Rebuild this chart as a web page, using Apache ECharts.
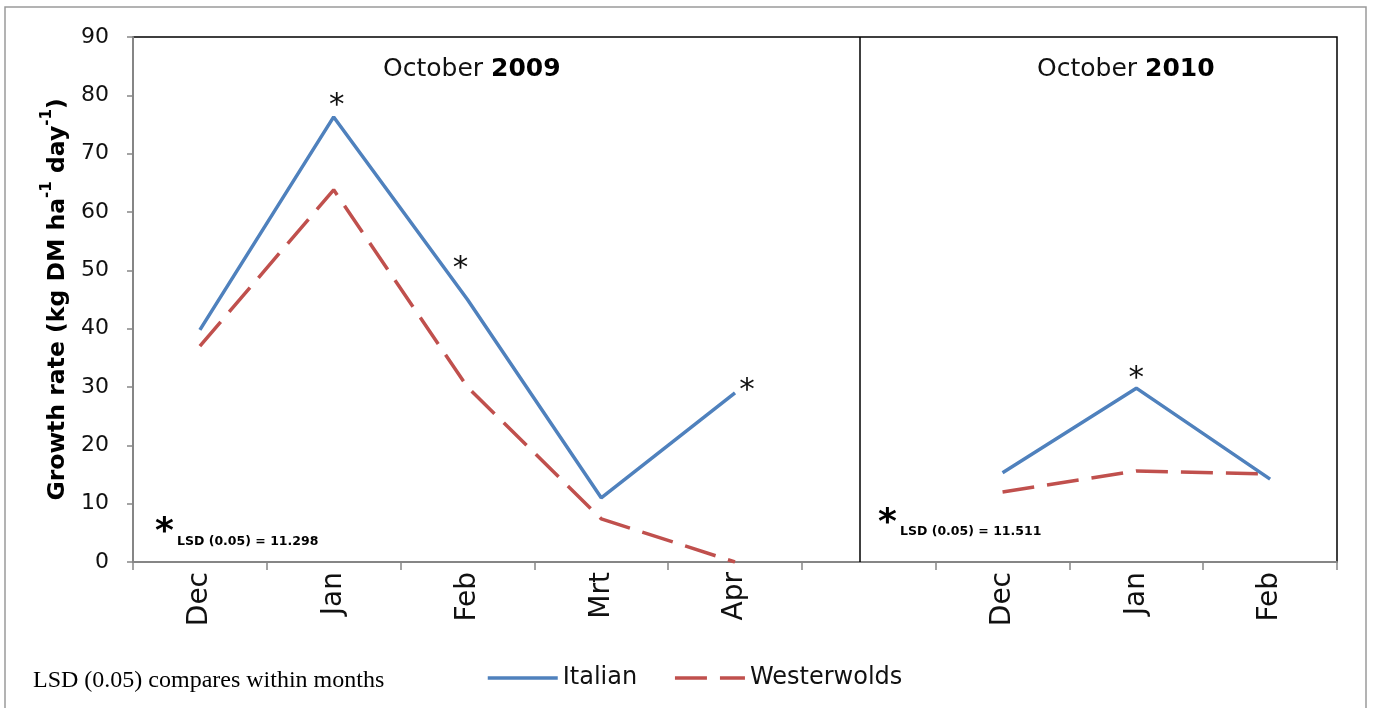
<!DOCTYPE html>
<html><head><meta charset="utf-8">
<script src="https://cdn.jsdelivr.net/npm/echarts@6/dist/echarts.min.js"></script>
<style>html,body{margin:0;padding:0;background:#fff}#c{width:1373px;height:708px}</style>
</head><body><div id="c"></div>
<script>
// ---- data ----
const categories = ['Dec', 'Jan', 'Feb', 'Mrt', 'Apr', '', 'Dec', 'Jan', 'Feb'];
const italian =     [39.8, 76.3, 45.0, 11.0, 29.0, null, 15.3, 29.8, 14.2];
const westerwolds = [37.0, 63.8, 30.0, 7.4, 0.0, null, 12.0, 15.6, 15.1];
const significant = [false, true, true, false, true, false, false, true, false];
const yTicks = [0, 10, 20, 30, 40, 50, 60, 70, 80, 90];
const periodLabels = ['2009', '2010'];
const lsdValues = ['11.298', '11.511'];
const separatorPos = 5.43; // between the two periods (in category units)

const FONT = '"DejaVu Sans", "Noto Sans", sans-serif';

// asterisk label placement (pixel offsets from the point) per significant point
const starOffsets = {1: [3, -11], 2: [-7, -31], 4: [12, -2], 7: [0, -9]};

const starPoints = [];
significant.forEach((s, i) => {
  if (s && italian[i] != null) {
    starPoints.push({coord: [i, italian[i]], value: '*',
      label: {offset: starOffsets[i]}});
  }
});

const chart = echarts.init(document.getElementById('c'), null, {renderer: 'canvas'});
chart.setOption({
  animation: false,
  backgroundColor: '#fff',
  grid: {left: 133, right: 36, top: 37, bottom: 146, show: true, borderColor: '#000', borderWidth: 1.5},
  legend: {
    data: ['Italian', 'Westerwolds'], left: 481, top: 661, itemWidth: 70, itemHeight: 4, itemGap: 36,
    lineStyle: {width: 3.5},
    itemStyle: {opacity: 0},
    textStyle: {fontSize: 24, color: '#111', fontFamily: FONT}
  },
  xAxis: [{
    type: 'category', data: categories, boundaryGap: true,
    axisLine: {lineStyle: {color: '#868686', width: 2}},
    axisTick: {show: true, length: 8, lineStyle: {color: '#868686', width: 1.5}},
    axisLabel: {rotate: 90, fontSize: 28, color: '#111', fontFamily: FONT, margin: 10, interval: 0}
  }, {
    type: 'value', min: 0, max: 9, show: false
  }],
  yAxis: {
    type: 'value', min: yTicks[0], max: yTicks[yTicks.length - 1], interval: 10,
    splitLine: {show: false},
    axisLine: {show: true, lineStyle: {color: '#868686', width: 2}},
    axisTick: {show: true, length: 6, lineStyle: {color: '#868686', width: 1.5}},
    axisLabel: {fontSize: 22, color: '#111', fontFamily: FONT, margin: 24},
    name: '{a|Growth rate (kg DM ha}{s|-1}{a| day}{s|-1}{a|)}',
    nameLocation: 'middle', nameGap: 62,
    nameTextStyle: {
      rich: {
        a: {fontSize: 23.5, fontWeight: 'bold', color: '#000', fontFamily: FONT, verticalAlign: 'bottom', lineHeight: 30},
        s: {fontSize: 15, fontWeight: 'bold', color: '#000', fontFamily: FONT, verticalAlign: 'top', lineHeight: 30}
      }
    }
  },
  series: [{
    name: 'Italian', type: 'line', data: italian, connectNulls: false,
    symbol: 'none', showSymbol: false, color: '#4F81BD',
    lineStyle: {color: '#4F81BD', width: 3.5}, z: 3,
    markPoint: {
      silent: true, symbol: 'circle', symbolSize: 1,
      itemStyle: {color: 'rgba(0,0,0,0)'},
      label: {show: true, position: 'inside', formatter: '*', fontSize: 31, color: '#111', fontFamily: FONT},
      data: starPoints
    }
  }, {
    name: 'Westerwolds', type: 'line', data: westerwolds, connectNulls: false,
    symbol: 'none', showSymbol: false, color: '#C0504D',
    lineStyle: {color: '#C0504D', width: 3.5, type: [32, 13]}, z: 2
  }, {
    name: 'sep', type: 'line', xAxisIndex: 1, data: [], silent: true,
    markLine: {silent: true, symbol: 'none', label: {show: false},
      lineStyle: {color: '#000', width: 1.5, type: 'solid'}, data: [{xAxis: separatorPos}]}
  }],
  graphic: [
    {type: 'rect', shape: {x: 5, y: 7, width: 1361, height: 720}, style: {fill: 'none', stroke: '#9a9a9a', lineWidth: 1.5}, z: -1},
    {type: 'text', left: 383, top: 57, style: {text: 'October {b|' + periodLabels[0] + '}', font: '25px ' + FONT, fill: '#111',
      rich: {b: {fontWeight: 'bold', fontSize: 25, fontFamily: FONT, fill: '#000'}}}},
    {type: 'text', left: 1037, top: 57, style: {text: 'October {b|' + periodLabels[1] + '}', font: '25px ' + FONT, fill: '#111',
      rich: {b: {fontWeight: 'bold', fontSize: 25, fontFamily: FONT, fill: '#000'}}}},
    {type: 'text', left: 155, top: 515, style: {text: '*', font: 'bold 36px ' + FONT, fill: '#000'}},
    {type: 'text', left: 177, top: 535, style: {text: 'LSD (0.05) = ' + lsdValues[0], font: 'bold 12.5px ' + FONT, fill: '#000'}},
    {type: 'text', left: 878, top: 506, style: {text: '*', font: 'bold 36px ' + FONT, fill: '#000'}},
    {type: 'text', left: 900, top: 525, style: {text: 'LSD (0.05) = ' + lsdValues[1], font: 'bold 12.5px ' + FONT, fill: '#000'}},
    {type: 'text', left: 33, top: 669, style: {text: 'LSD (0.05) compares within months', font: '24px "Liberation Serif", serif', fill: '#000'}}
  ]
});
</script></body></html>
